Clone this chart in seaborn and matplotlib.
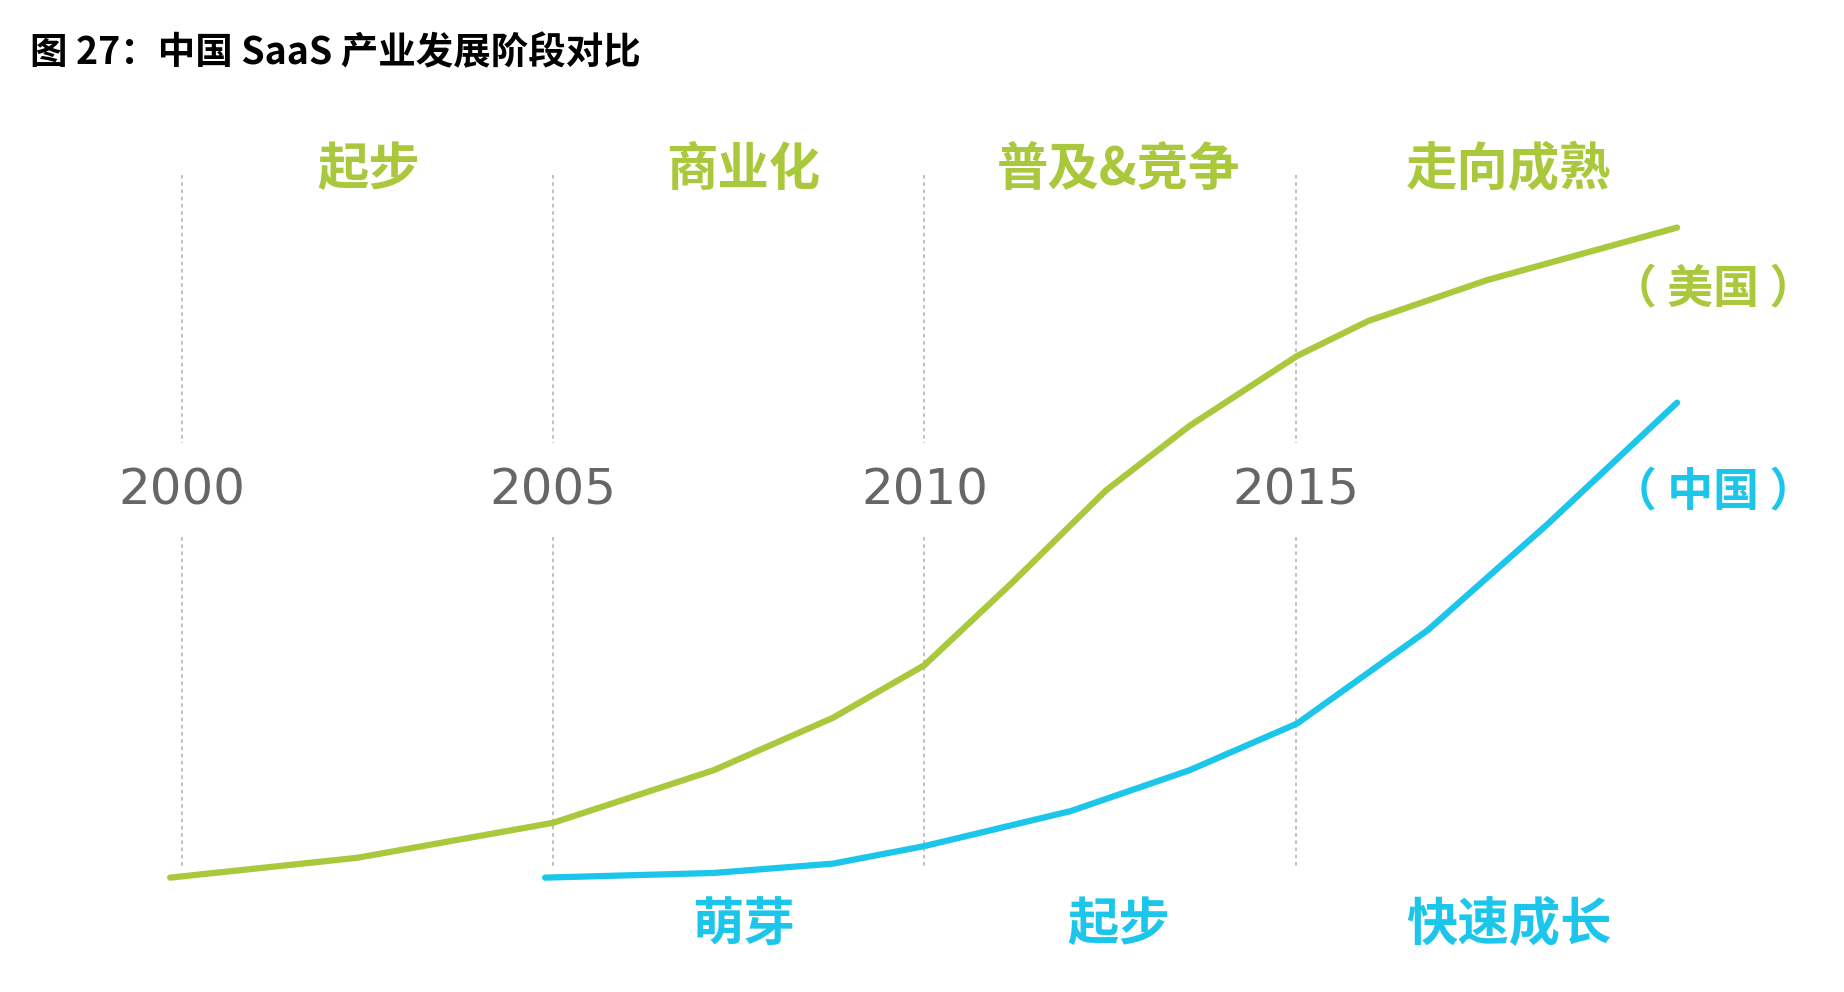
import matplotlib
matplotlib.use("Agg")
import matplotlib.pyplot as plt
import seaborn as sns

sns.set_theme(style="white")
plt.rcParams['font.family'] = ['Noto Sans CJK SC', 'DejaVu Sans']

us_years = [1999.84, 2002.36, 2005.0, 2007.16, 2008.77, 2010.0, 2011.17, 2012.45, 2013.57, 2015.02, 2015.98, 2017.58, 2020.14]
us_vals = [0, 17, 47, 92, 137, 182, 252, 332, 387, 447, 477, 512, 557]
cn_years = [2004.89, 2007.16, 2008.77, 2010.0, 2011.97, 2013.57, 2015.02, 2016.78, 2018.38, 2020.14]
cn_vals = [0, 4, 12, 27, 57, 92, 132, 212, 302, 407]
tick_years = [2000, 2005, 2010, 2015]
us_phases = ["起步", "商业化", "普及&竞争", "走向成熟"]
cn_phases = ["萌芽", "起步", "快速成长"]
GREEN = "#a9c83c"
CYAN = "#1cc6ea"

W, H = 1550, 850
fig = plt.figure(figsize=(18.44, 9.92), dpi=100)
ax = fig.add_axes([0, 0, 1, 1])
ax.set_xlim(2000 - 153 / 62.4, 2000 + (W - 153) / 62.4)
ax.set_ylim(752 - H, 752)
ax.axis("off")

for yr in tick_years:
    ax.plot([yr, yr], [752 - 150, 752 - 380], ls=(0, (2, 2)), color="#bbbbbb", lw=1.3)
    ax.plot([yr, yr], [752 - 460, 752 - 745], ls=(0, (2, 2)), color="#bbbbbb", lw=1.3)
    ax.text(yr, 752 - 420, str(yr), ha="center", va="center", fontsize=36, color="#666666",
            family=["DejaVu Sans"])

sns.lineplot(x=us_years, y=us_vals, ax=ax, color=GREEN, lw=4.5)
sns.lineplot(x=cn_years, y=cn_vals, ax=ax, color=CYAN, lw=4.5)

def ft(x, y, s, **kw):
    fig.text(x / W, 1 - y / H, s, ha="center", va="center", **kw)

for s, x in zip(us_phases, [310, 625, 940, 1268]):
    ft(x, 145, s, fontsize=37, fontweight="bold", color=GREEN)
for s, x in zip(cn_phases, [625, 940, 1268]):
    ft(x, 792, s, fontsize=37, fontweight="bold", color=CYAN)
ft(1440, 248, "（ 美国 ）", fontsize=33, fontweight="bold", color=GREEN)
ft(1440, 422, "（ 中国 ）", fontsize=33, fontweight="bold", color=CYAN)
fig.text(25 / W, 1 - 45 / H, "图 27：中国 SaaS 产业发展阶段对比", ha="left", va="center",
         fontsize=27, fontweight="bold", color="black")

fig.savefig("out.png", dpi=100, facecolor="white")
